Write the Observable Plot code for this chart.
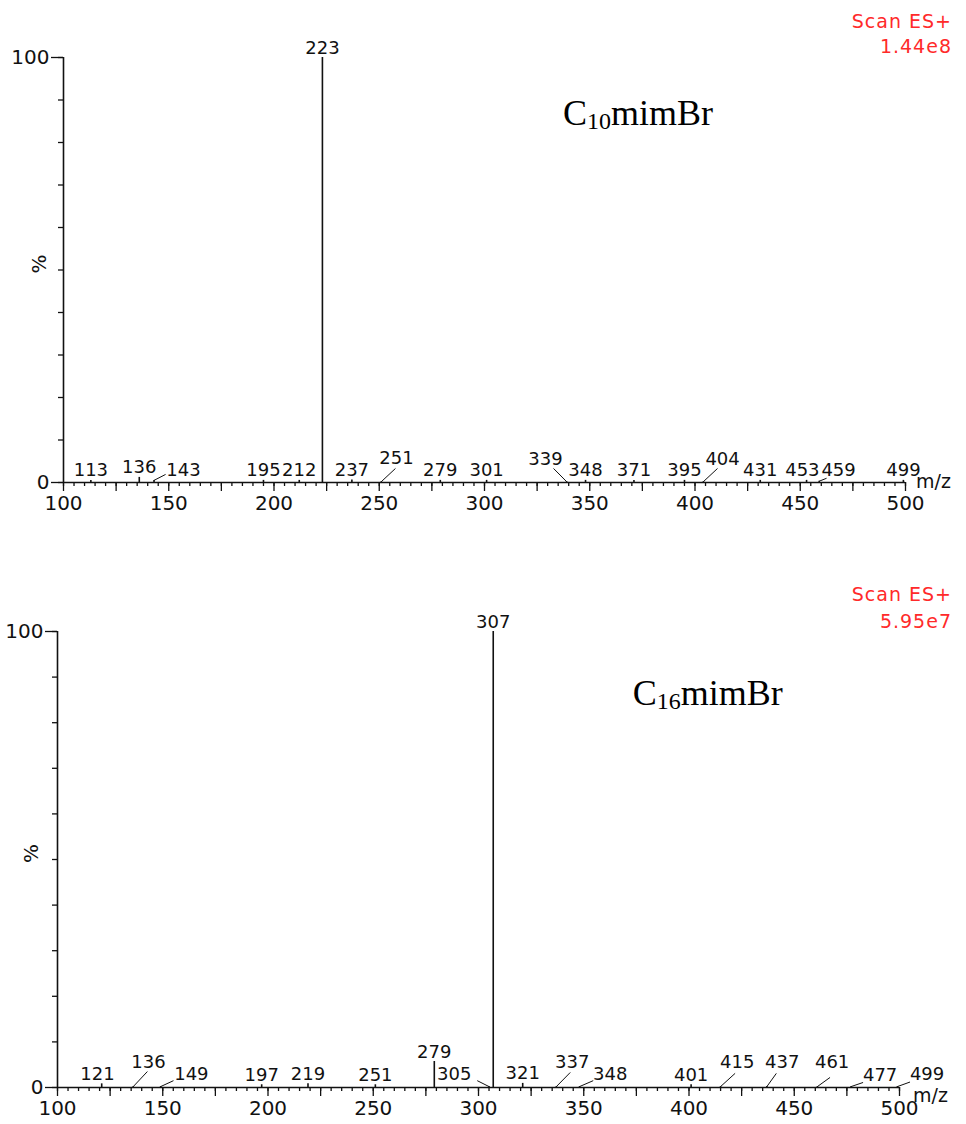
<!DOCTYPE html>
<html>
<head>
<meta charset="utf-8">
<script src="https://cdn.jsdelivr.net/npm/d3@7"></script>
<script src="https://cdn.jsdelivr.net/npm/@observablehq/plot@0.6"></script>
<style>
  body { margin: 0; background: #fff; }
  #chart { width: 966px; }
  #chart svg { display: block; }
</style>
</head>
<body>
<div id="chart"></div>
<script>
// ---------- data ----------
// C10mimBr spectrum (m/z, relative intensity %)
const c10Mz        = [113, 136, 143, 195, 212, 223, 237, 251, 279, 301, 339, 348, 371, 395, 404, 431, 453, 459, 499];
const c10Intensity = [0.5, 1.2, 0.5, 0.5, 0.5, 100, 0.6, 0.2, 0.5, 0.5, 0.2, 0.5, 0.5, 0.5, 0.2, 0.5, 0.5, 0.3, 0.5];
const c10Scan = ["Scan ES+", "1.44e8"];

// C16mimBr spectrum
const c16Mz        = [121, 136, 149, 197, 219, 251, 279, 305, 307, 321, 337, 348, 401, 415, 437, 461, 477, 499];
const c16Intensity = [0.8, 0.2, 0.2, 0.6, 0.8, 0.6, 5.7, 0.2, 100, 0.9, 0.2, 0.2, 0.6, 0.2, 0.2, 0.2, 0.2, 0.2];
const c16Scan = ["Scan ES+", "5.95e7"];

// tick values / labels
const xTickLabels = [100, 150, 200, 250, 300, 350, 400, 450, 500];
const xMajorTicks = d3.range(100, 501, 25);
const xMinorTicks = d3.range(100, 501, 5);
const yTicks = d3.range(0, 101, 10);
const yTickLabels = [0, 100];

// ---------- annotation layout (label placement for crowded peak labels) ----------
// [peak m/z, label m/z, label %, leader end m/z, leader end %]
const c10Moved = [
  [143, 157.0, 0.5, 148.5, 1.9],
  [251, 258.2, 3.3, 257.7, 3.3],
  [339, 329.0, 3.1, 332.8, 3.3],
  [404, 413.1, 3.1, 410.7, 3.3],
  [453, 451.0, 0.5, null, null],
  [459, 468.2, 0.5, 462.5, 1.0]
];
const c16Moved = [
  [121, 119.0, 0.8, null, null],
  [136, 143.2, 3.5, 142.7, 3.5],
  [149, 163.6, 0.66, 155.1, 1.5],
  [305, 288.5, 0.66, 299.4, 1.5],
  [337, 344.5, 3.3, 343.6, 3.3],
  [348, 362.6, 0.66, 354.5, 1.5],
  [415, 422.9, 3.3, 421.9, 3.1],
  [437, 444.3, 3.3, 441.5, 3.1],
  [461, 468.0, 3.3, 467.0, 2.2],
  [477, 490.8, 0.5, 482.7, 1.1],
  [499, 513.1, 0.8, 505.0, 1.2]
];

const SANS = "DejaVu Sans, sans-serif";
const SERIF = "Liberation Serif, Times New Roman, serif";

function spectrum(o) {
  const peaks = o.mz.map((m, i) => ({mz: m, intensity: o.intensity[i]}));
  const moved = new Map(o.moved.map(d => [d[0], d]));
  const labels = peaks.map(p => {
    const mv = moved.get(p.mz);
    return {text: String(p.mz), lx: mv ? mv[1] : p.mz, ly: mv ? mv[2] : p.intensity};
  });
  const leaders = o.moved.filter(d => d[3] != null).map(d => ({
    x1: d[0], y1: o.intensity[o.mz.indexOf(d[0])], x2: d[3], y2: d[4]
  }));

  const svg = Plot.plot({
    width: 966,
    height: 562,
    marginTop: o.margin[0],
    marginRight: o.margin[1],
    marginBottom: o.margin[2],
    marginLeft: o.margin[3],
    x: {domain: [100, 500], axis: null, label: null},
    y: {domain: [0, 100], axis: null, label: null},
    style: {fontFamily: SANS, fontSize: "19px", color: "#111", background: "white", overflow: "visible"},
    marks: [
      Plot.axisX({ticks: xMinorTicks, tickSize: 4, fill: "none", tickFormat: () => "", label: null, strokeWidth: 1.3}),
      Plot.axisX({ticks: xMajorTicks, tickSize: 9, fill: "none", tickFormat: () => "", label: null, strokeWidth: 1.3}),
      Plot.axisX({ticks: xTickLabels, tickSize: 0, tickPadding: 13, fontSize: 20, label: null}),
      Plot.axisY({ticks: yTicks, tickSize: 5, fill: "none", tickFormat: () => "", label: null, strokeWidth: 1.3}),
      Plot.axisY({ticks: yTickLabels, tickSize: 12, tickPadding: 2, fontSize: 20, label: null, strokeWidth: 1.3}),
      Plot.ruleY([0], {x1: 100, x2: 500, strokeWidth: 1.6}),
      Plot.ruleX([100], {y1: 0, y2: 100, strokeWidth: 1.6}),
      Plot.ruleX(peaks, {x: "mz", y1: 0, y2: "intensity", strokeWidth: 1.6}),
      Plot.link(leaders, {x1: "x1", y1: "y1", x2: "x2", y2: "y2", strokeWidth: 1}),
      Plot.text(labels, {x: "lx", y: "ly", text: "text", dy: -4, lineAnchor: "bottom", fontSize: 18}),
      Plot.text(["%"], {x: 100, y: 50, dx: o.pctDx, dy: -6, rotate: -90, fontSize: 20}),
      Plot.text(["m/z"], {x: 500, y: 0, dx: o.mzDx, dy: o.mzDy, fontSize: 19})
    ]
  });

  const sx = svg.scale("x"), sy = svg.scale("y");
  const g = d3.select(svg);
  const t = g.append("text")
    .attr("x", sx.apply(o.title.x)).attr("y", sy.apply(o.title.y))
    .attr("text-anchor", "start")
    .attr("font-family", SERIF).attr("font-size", 36).attr("fill", "#000");
  t.append("tspan").text("C");
  t.append("tspan").attr("font-size", 24).attr("dy", 4).text(o.title.sub);
  t.append("tspan").attr("dy", -4).text("mimBr");

  o.scan.forEach((s, i) => {
    g.append("text")
      .attr("x", 952).attr("y", o.scanY[i])
      .attr("text-anchor", "end")
      .attr("font-family", SANS).attr("font-size", 19)
      .attr("letter-spacing", 1)
      .attr("fill", "#ff2a2a")
      .text(s);
  });
  return svg;
}

const chart = document.getElementById("chart");
chart.appendChild(spectrum({
  mz: c10Mz, intensity: c10Intensity, moved: c10Moved,
  margin: [57, 61, 80, 63],
  title: {x: 337.5, y: 84.0, sub: "10"},
  scan: c10Scan, scanY: [28, 53],
  pctDx: -24, mzDx: 28, mzDy: -1
}));
chart.appendChild(spectrum({
  mz: c16Mz, intensity: c16Intensity, moved: c16Moved,
  margin: [69, 67, 37, 57],
  title: {x: 373.5, y: 83.8, sub: "16"},
  scan: c16Scan, scanY: [39, 66],
  pctDx: -26, mzDx: 31, mzDy: 8
}));
</script>
</body>
</html>
